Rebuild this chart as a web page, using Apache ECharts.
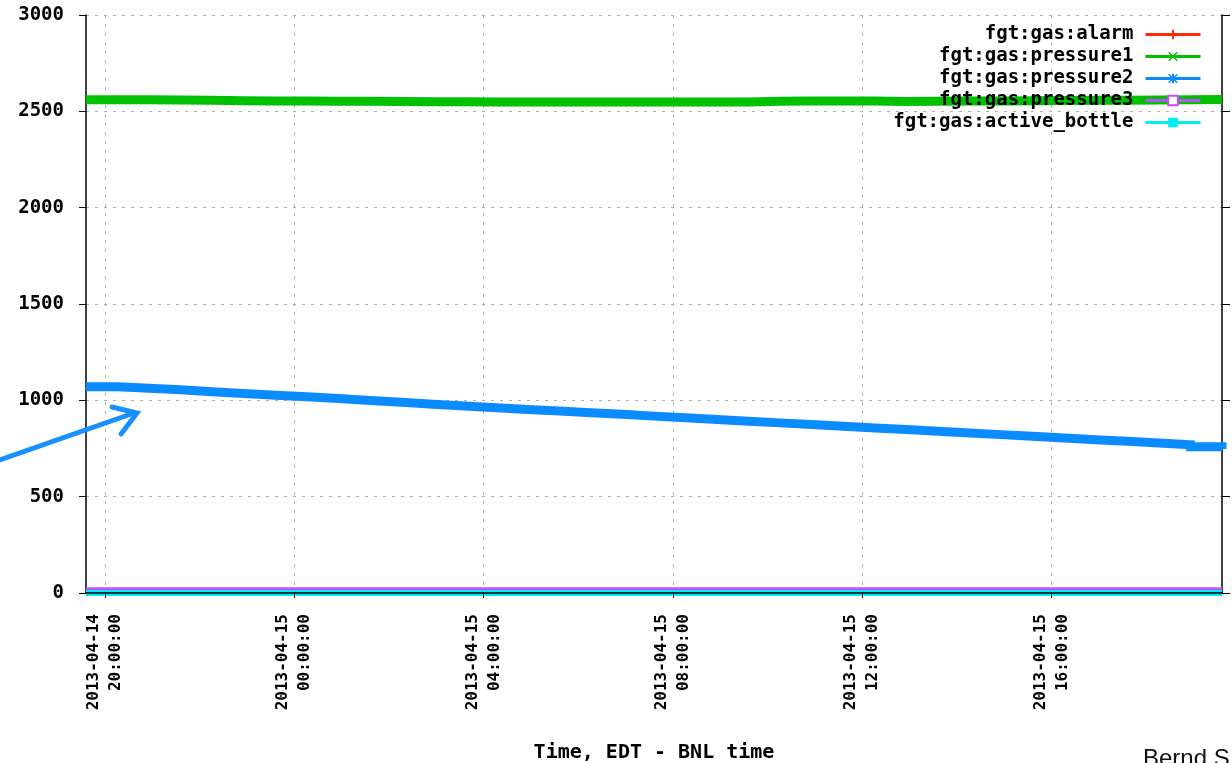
<!DOCTYPE html>
<html>
<head>
  <meta charset="UTF-8">
  <title>fgt gas pressures</title>
  <script src="https://cdn.jsdelivr.net/npm/echarts@6/dist/echarts.min.js"></script>
  <style>
    html, body, #main {
      margin: 0;
      padding: 0;
      width: 100%;
      height: 100%;
      background: #fff;
    }
  </style>
</head>
<body>
  <div id="main"></div>
  <script>
    // sample times (EDT), one reading every 40 min
    const sampleTimes = [
      '2013-04-14 19:36', '2013-04-14 20:16', '2013-04-14 20:56', '2013-04-14 21:36',
      '2013-04-14 22:16', '2013-04-14 22:56', '2013-04-14 23:36', '2013-04-15 00:16',
      '2013-04-15 00:56', '2013-04-15 01:36', '2013-04-15 02:16', '2013-04-15 02:56',
      '2013-04-15 03:36', '2013-04-15 04:16', '2013-04-15 04:56', '2013-04-15 05:36',
      '2013-04-15 06:16', '2013-04-15 06:56', '2013-04-15 07:36', '2013-04-15 08:16',
      '2013-04-15 08:56', '2013-04-15 09:36', '2013-04-15 10:16', '2013-04-15 10:56',
      '2013-04-15 11:36', '2013-04-15 12:16', '2013-04-15 12:56', '2013-04-15 13:36',
      '2013-04-15 14:16', '2013-04-15 14:56', '2013-04-15 15:36', '2013-04-15 16:16',
      '2013-04-15 16:56', '2013-04-15 17:36', '2013-04-15 18:16', '2013-04-15 18:56',
      '2013-04-15 19:36'
    ];

    const alarm = [0,0,0,0,0,0,0,0,0,0,0,0,0,0,0,0,0,0,0,0,0,0,0,0,0,0,0,0,0,0,0,0,0,0,0,0,0];
    const pressure1 = [2560,2560,2559,2558,2555,2553,2553,2552,2552,2551,
                       2550,2550,2549,2549,2548,2548,2548,2548,2548,2548,
                       2549,2552,2553,2553,2553,2551,2552,2553,2554,2555,
                       2556,2557,2558,2559,2560,2561,2561];
    const pressure2 = [1070,1063,1055,1045,1036,1026,1018,1009,999,990,
                       980,971,962,953,945,936,928,918,909,901,
                       892,883,874,865,857,849,840,831,822,813,
                       805,796,788,779,770,759,748];
    const pressure3 = [22,22,22,22,22,22,22,22,22,22,22,22,22,22,22,22,22,22,22,
                       22,22,22,22,22,22,22,22,22,22,22,22,22,22,22,22,22,22];
    const activeBottle = [0,0,0,0,0,0,0,0,0,0,0,0,0,0,0,0,0,0,0,0,0,0,0,0,0,0,0,0,0,0,0,0,0,0,0,0,0];

    const seriesNames = ['fgt:gas:alarm', 'fgt:gas:pressure1', 'fgt:gas:pressure2',
                         'fgt:gas:pressure3', 'fgt:gas:active_bottle'];
    const tickTimes = ['2013-04-14 20:00', '2013-04-15 00:00', '2013-04-15 04:00',
                       '2013-04-15 08:00', '2013-04-15 12:00', '2013-04-15 16:00'];
    const xStart = '2013-04-14 19:36';
    const xEnd = '2013-04-15 19:36';

    function toMs(s) {
      const [d, t] = s.split(' ');
      const [y, mo, da] = d.split('-').map(Number);
      const [h, mi] = t.split(':').map(Number);
      return Date.UTC(y, mo - 1, da, h, mi);
    }
    const pad = n => String(n).padStart(2, '0');
    function fmtTick(v) {
      const d = new Date(v);
      return d.getUTCFullYear() + '-' + pad(d.getUTCMonth() + 1) + '-' + pad(d.getUTCDate()) +
        '\n' + pad(d.getUTCHours()) + ':' + pad(d.getUTCMinutes()) + ':00';
    }

    const xs = sampleTimes.map(toMs);
    const tickValues = tickTimes.map(toMs);
    const pairs = vals => vals.map((v, i) => [xs[i], v]);

    const MONO = '"DejaVu Sans Mono", "Liberation Mono", monospace';
    const PLUS = 'path://M4,0h2v4h4v2h-4v4h-2v-4h-4v-2h4z';
    const CROSS = 'path://M1,0L5,4L9,0L10,1L6,5L10,9L9,10L5,6L1,10L0,9L4,5L0,1Z';
    const STAR = 'path://M4,0h2v4h4v2h-4v4h-2v-4h-4v-2h4zM1,0L5,4L9,0L10,1L6,5L10,9L9,10L5,6L1,10L0,9L4,5L0,1Z';

    const seriesData = [alarm, pressure1, pressure2, pressure3, activeBottle];
    const colors = ['#ff2a00', '#00c000', '#0a8cff', '#c050ff', '#00eeee'];
    const widths = [3, 9, 9, 3, 6];
    const symbols = [PLUS, CROSS, STAR, 'emptyRect', 'rect'];

    const chart = echarts.init(document.getElementById('main'));

    chart.setOption({
      animation: false,
      backgroundColor: '#fff',
      grid: { left: 86, right: 10, top: 15, bottom: 170, outerBoundsMode: 'none', containLabel: false },
      legend: {
        data: seriesNames,
        orient: 'vertical',
        right: 30,
        top: 25,
        align: 'right',
        padding: 0,
        itemWidth: 55,
        itemHeight: 12,
        itemGap: 3,
        selectedMode: false,
        lineStyle: { width: 3 },
        textStyle: {
          fontFamily: MONO,
          fontWeight: 'bold',
          fontSize: 19,
          color: '#000',
          padding: [0, 7, 0, 0]
        }
      },
      xAxis: [
        {
          type: 'value',
          position: 'bottom',
          min: toMs(xStart),
          max: toMs(xEnd),
          z: 5,
          axisLine: { lineStyle: { color: '#000', width: 1.5 } },
          axisTick: { customValues: tickValues, length: 5, lineStyle: { color: '#000' } },
          axisLabel: {
            customValues: tickValues,
            rotate: 90,
            margin: 21,
            formatter: fmtTick,
            fontFamily: MONO,
            fontWeight: 'bold',
            fontSize: 16,
            lineHeight: 22,
            color: '#000'
          },
          splitLine: { show: false },
          name: 'Time, EDT - BNL time',
          nameLocation: 'middle',
          nameGap: 150,
          nameTextStyle: { fontFamily: MONO, fontWeight: 'bold', fontSize: 20, color: '#000' }
        },
        {
          type: 'value',
          position: 'top',
          min: toMs(xStart),
          max: toMs(xEnd),
          axisLine: { lineStyle: { color: '#000', width: 1.5 } },
          axisTick: { show: false, customValues: tickValues },
          axisLabel: { show: false, customValues: tickValues },
          splitLine: { show: true, lineStyle: { color: '#b0b0b0', type: [3, 6], width: 1 } }
        }
      ],
      yAxis: [
        {
          type: 'value',
          position: 'left',
          min: 0,
          max: 3000,
          interval: 500,
          axisLine: { show: true, lineStyle: { color: '#000', width: 1.5 } },
          axisTick: { show: true, length: 7, lineStyle: { color: '#000' } },
          axisLabel: {
            margin: 22,
            formatter: v => String(v),
            fontFamily: MONO,
            fontWeight: 'bold',
            fontSize: 19,
            color: '#000'
          },
          splitLine: { show: true, lineStyle: { color: '#b0b0b0', type: [3, 6], width: 1 } }
        },
        {
          type: 'value',
          position: 'right',
          min: 0,
          max: 3000,
          interval: 500,
          axisLine: { show: true, lineStyle: { color: '#000', width: 1.5 } },
          axisTick: { show: true, length: 8, lineStyle: { color: '#000' } },
          axisLabel: { show: false },
          splitLine: { show: false }
        }
      ],
      series: seriesNames.map((name, i) => ({
        name: name,
        type: 'line',
        step: 'end',
        xAxisIndex: 0,
        yAxisIndex: 0,
        showSymbol: false,
        symbol: symbols[i],
        symbolSize: 9,
        color: colors[i],
        lineStyle: { color: colors[i], width: widths[i], cap: 'butt', join: 'miter' },
        itemStyle: { color: colors[i] },
        data: pairs(seriesData[i])
      })),
      graphic: [
        {
          type: 'line',
          shape: { x1: -6, y1: 462, x2: 134, y2: 413 },
          style: { stroke: '#1a90ff', lineWidth: 5, lineCap: 'round' },
          z: 100
        },
        {
          type: 'polyline',
          shape: { points: [[112, 407], [137, 413], [121, 434]] },
          style: { stroke: '#1a90ff', lineWidth: 5, fill: null, lineJoin: 'miter', lineCap: 'round' },
          z: 100
        },
        {
          type: 'text',
          left: 1143,
          top: 747,
          style: {
            text: 'Bernd S',
            fontFamily: '"Liberation Sans", Arial, sans-serif',
            fontSize: 24,
            fill: '#111'
          },
          z: 100
        }
      ]
    });
  </script>
</body>
</html>
